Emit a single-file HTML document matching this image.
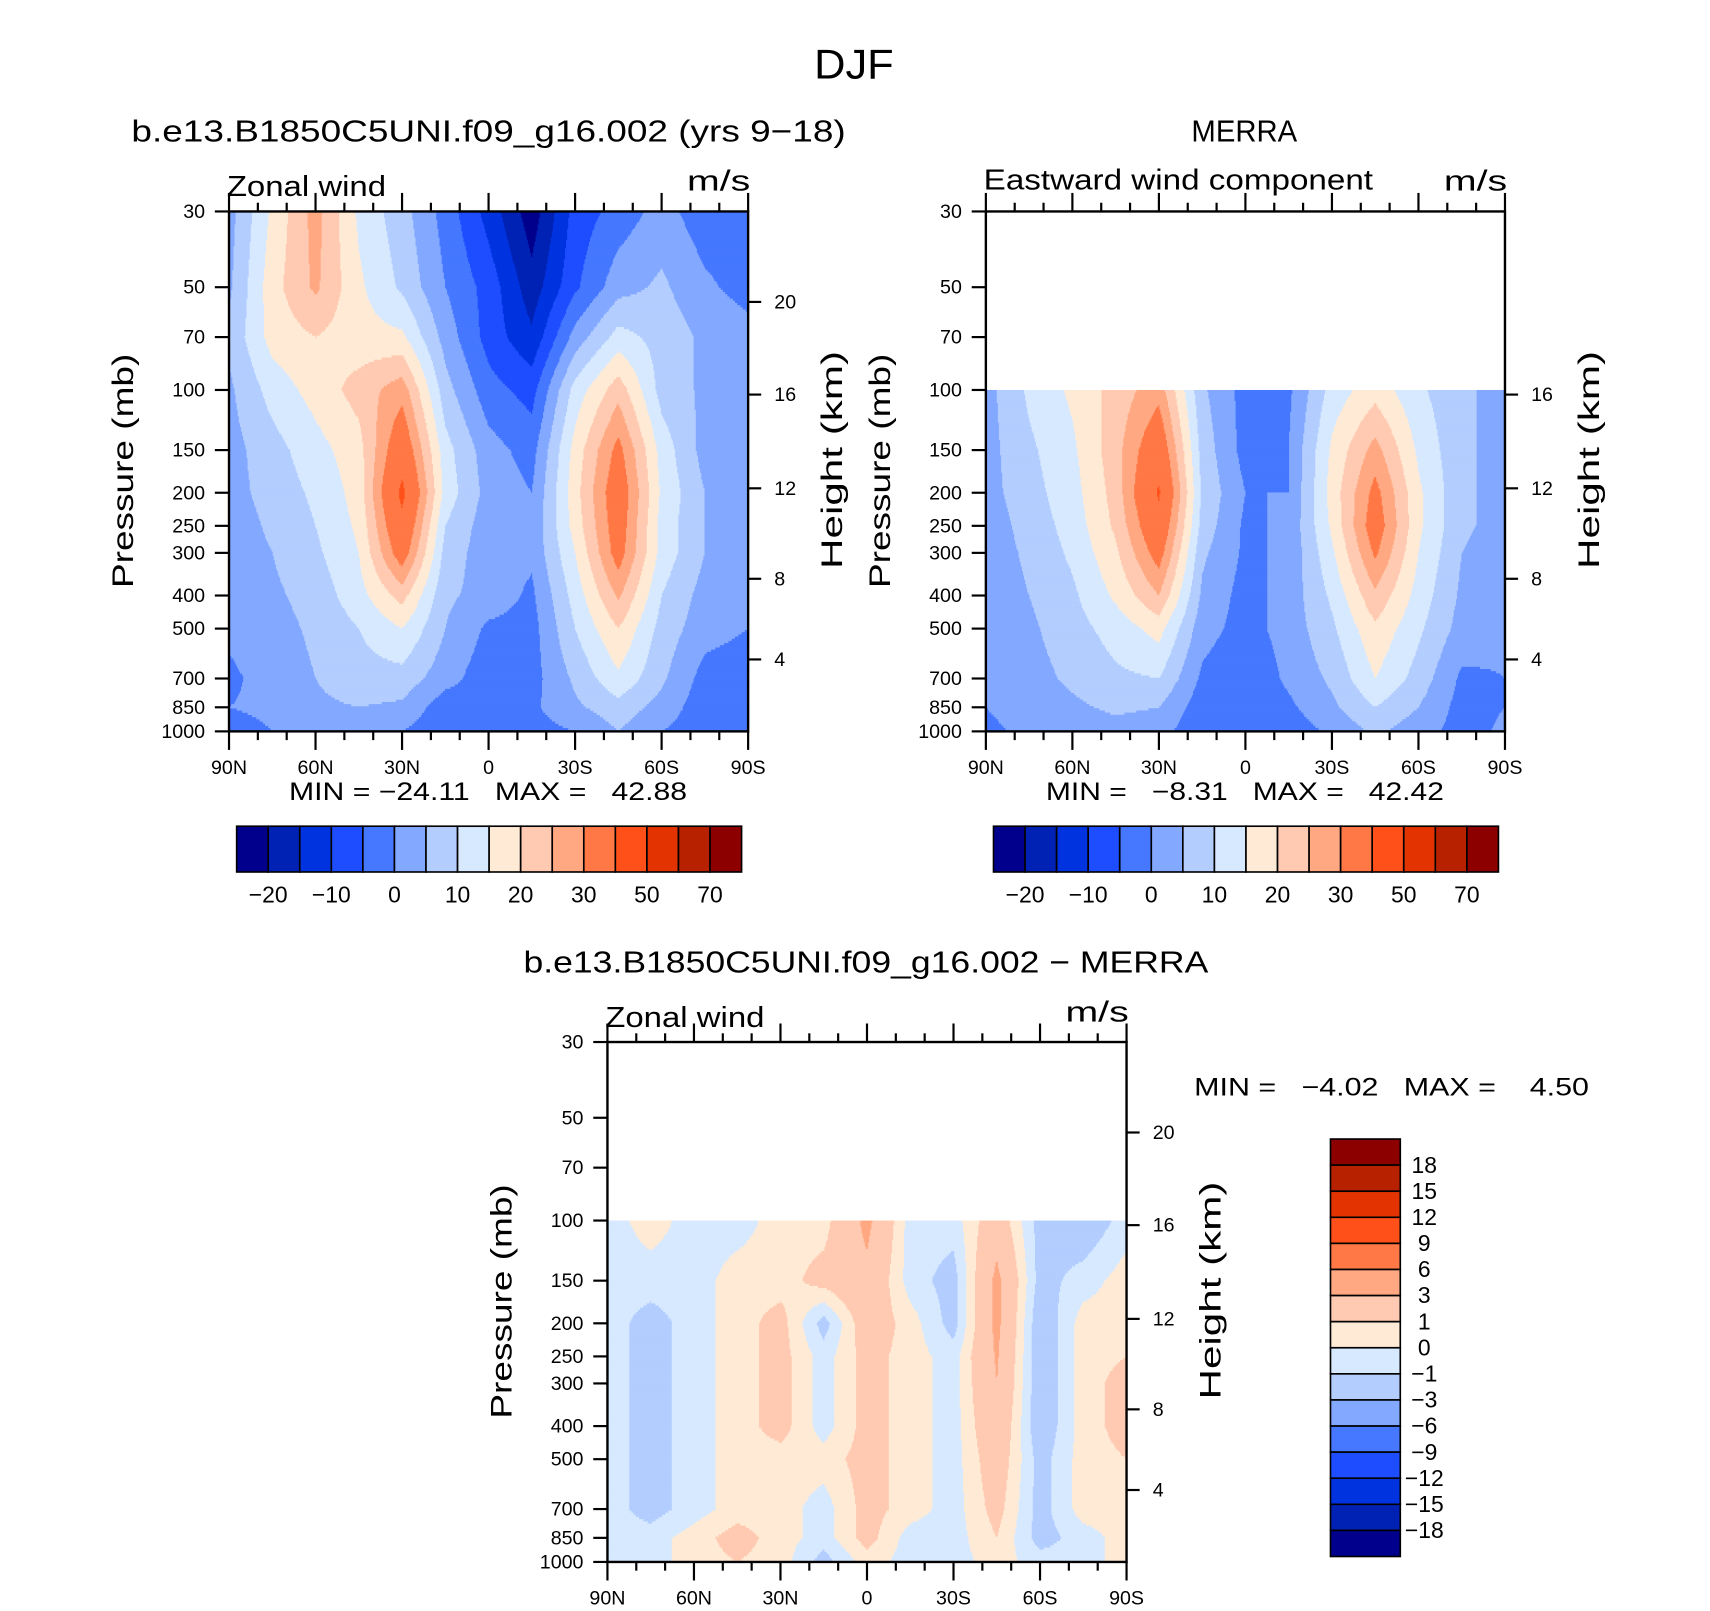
<!DOCTYPE html>
<html><head><meta charset="utf-8"><title>DJF zonal wind</title>
<style>
html,body{margin:0;padding:0;background:#fff;overflow:hidden}
svg{display:block;font-family:"Liberation Sans",sans-serif}
</style></head>
<body>
<svg id="fig" width="1710" height="1611" viewBox="0 0 1568 1478" preserveAspectRatio="none" xmlns="http://www.w3.org/2000/svg">
<rect width="1568" height="1478" fill="#fff"/>
<text x="783" y="72" font-size="38" text-anchor="middle" textLength="73" lengthAdjust="spacingAndGlyphs">DJF</text>
</svg>
<script>
// ---------- DATA ----------
const lats = [90, 75, 60, 45, 30, 15, 0, -15, -30, -45, -60, -75, -90];
const levsModel = [30, 50, 70, 100, 150, 200, 250, 300, 400, 500, 700, 850, 1000];
const levsObs = [100, 150, 200, 250, 300, 400, 500, 700, 850, 1000];
const modelU = [
 [3, 16, 27, 14, 7, -2, -12, -23, -8, -3, 2, -3, -3],
 [4, 18, 26, 16, 9, 0, -7, -18, -6, 3, 6, 1, -2],
 [6, 17, 20, 17, 16, 3, -7, -14, 2, 12, 8, 4, 2],
 [4, 12, 17, 22, 28, 7, -3, -7, 12, 23, 8, 4, 3],
 [3, 8, 13, 18, 36, 12, 2, -2, 17, 32, 13, 3, 3],
 [3, 7, 11, 17, 42, 13, 3, 0, 18, 35, 14, 5, 3],
 [2, 6, 10, 16, 38, 10, 2, 1, 17, 34, 13, 5, 2],
 [2, 5, 9, 15, 34, 8, 2, 1, 15, 33, 13, 5, 2],
 [1, 4, 7, 13, 22, 6, 3, -1, 12, 26, 10, 3, 1],
 [1, 3, 6, 10, 15, 5, -1, -2, 10, 20, 8, 2, 0],
 [-1, 2, 5, 8, 8, 2, -3, -2, 6, 14, 6, -2, -3],
 [0, 1, 4, 5, 4, -3, -2, -1, 4, 8, 3, -3, -2],
 [-2, 0, 1, 2, 0, -4, -3, -2, 0, 5, 0, -3, -2]
];
const obsU = [
 [3, 11, 16, 22, 28, 6, -2, -1, 12, 18, 11, 6, 3],
 [3, 9, 14, 23, 36, 8, -2, 0, 16, 27, 14, 6, 3],
 [3, 8, 13, 22, 41, 9, 0, 0, 17, 32, 16, 6, 3],
 [2, 7, 12, 21, 37, 8, -1, 1, 16, 34, 16, 6, 3],
 [2, 6, 11, 19, 33, 6, -1, 1, 14, 31, 15, 5, 2],
 [2, 5, 9, 16, 25, 4, -2, 2, 11, 24, 13, 4, 2],
 [1, 4, 8, 12, 17, 2, -2, 2, 9, 19, 11, 3, 1],
 [1, 3, 6, 9, 10, -1, -4, 1, 6, 15, 8, -1, 0],
 [0, 2, 4, 6, 5, -3, -4, -1, 4, 10, 5, -2, 0],
 [-1, 1, 2, 3, 2, -4, -4, -3, 1, 6, 2, -2, 1]
];
const diffU = [
 [-0.5, 0.5, -0.5, -0.5, 0.5, 0.5, 3.5, -0.5, -0.5, 2, -1.5, -2, -0.5],
 [-0.5, -0.5, -0.5, 0.5, 0.5, 1.5, 2.5, -0.5, -1.5, 3.5, -1.5, -0.5, 0.5],
 [-0.5, -1.5, -0.5, 0.5, 1.5, -1.5, 2, 0.5, -1.5, 3.5, -2, 0.5, 0.5],
 [-0.5, -1.5, -0.5, 0.5, 1.5, -0.5, 1.5, 0.5, -0.5, 3.2, -2, 0.5, 1],
 [-0.5, -1.5, -0.5, 0.5, 1.5, -0.5, 1.5, 0.5, -0.5, 3, -2, 0.5, 1.5],
 [-0.5, -1.5, -0.5, 0.5, 1.5, -0.5, 1.5, 0.5, -0.5, 2.5, -2, 0.5, 1.5],
 [-0.5, -1.5, -0.5, 0.5, 0.5, 0.5, 1.5, 0.5, -0.5, 2, -1.5, 0.5, 1],
 [-0.5, -1.5, -0.5, 0.5, 0.5, -0.5, 1.5, 0.5, -0.5, 1.5, -1.5, 0.5, 0.5],
 [-0.5, -0.5, 0.5, 1.5, 0.5, -0.5, 1.5, -0.5, -0.5, 1, -1.5, -0.5, 0.5],
 [-0.5, -0.5, 0.5, 1, 0.5, -1.5, 0.5, -0.5, -0.5, 0.5, -0.5, -0.5, 0.5]
];
const windBounds = [-20, -15, -10, -5, 0, 5, 10, 15, 20, 25, 30, 40, 50, 60, 70];
const windBarLabels = ["−20", "−10", "0", "10", "20", "30", "50", "70"];
const diffBounds = [-18, -15, -12, -9, -6, -3, -1, 0, 1, 3, 6, 9, 12, 15, 18];
const diffBarLabels = ["−18", "−15", "−12", "−9", "−6", "−3", "−1", "0", "1", "3", "6", "9", "12", "15", "18"];
const palette = ["#00008c", "#0022b4", "#0033e0", "#1e4dff", "#4577ff", "#83a8ff", "#b3cdff", "#d6e9ff",
                 "#ffead6", "#ffcab1", "#ffa882", "#ff7845", "#ff5019", "#e23300", "#b82100", "#8c0000"];
const presTicks = [30, 50, 70, 100, 150, 200, 250, 300, 400, 500, 700, 850, 1000];
const latTicks = [90, 60, 30, 0, -30, -60, -90];
const latTickLabels = ["90N", "60N", "30N", "0", "30S", "60S", "90S"];
const heightTicksA = ["20", "16", "12", "8", "4"];
const heightTickOffsetsA = [83, 168, 254, 337, 411];
const heightTicksB = ["16", "12", "8", "4"];
const heightTickOffsetsB = [168, 254, 337, 411];

// ---------- HELPERS ----------
const NS = "http://www.w3.org/2000/svg";
const svg = document.getElementById("fig");
function mk(tag, attrs, parent, txt) {
  const e = document.createElementNS(NS, tag);
  for (const k in attrs) e.setAttribute(k, attrs[k]);
  if (txt !== undefined) e.textContent = txt;
  (parent || svg).appendChild(e);
  return e;
}
function fit(el, len) { el.setAttribute("textLength", len); el.setAttribute("lengthAdjust", "spacingAndGlyphs"); return el; }
function colorIdx(v, b) { let i = 0; while (i < b.length && v >= b[i]) i++; return i; }

function panel(cfg) {
  const g = mk("g", {});
  
  
  const X0 = cfg.x, Y0 = cfg.y, W = 476, H = 477;
  const L = Math.log(1000 / 30);
  const xs = lat => X0 + (90 - lat) / 180 * W;
  const ys = p => Y0 + Math.log(p / 30) / L * H;
  const fg = mk("g", {}, g);
  
  
  const levs = cfg.levs, data = cfg.data;
  const lnl = levs.map(p => Math.log(p));
  const yStart = ys(levs[0]), yEnd = Y0 + H, step = 2;
  for (let py = yStart; py < yEnd; py += step) {
    const p = 30 * Math.exp((py + step / 2 - Y0) / H * L);
    const lp = Math.log(p);
    let k = 0; while (k < lnl.length - 2 && lp > lnl[k + 1]) k++;
    let t = (lp - lnl[k]) / (lnl[k + 1] - lnl[k]); t = Math.max(0, Math.min(1, t));
    let runStart = X0, runC = -1;
    for (let px = X0; px <= X0 + W; px += 1) {
      let c = -1;
      if (px < X0 + W) {
        const lat = 90 - (px + 0.5 - X0) / W * 180;
        let j = Math.floor((90 - lat) / 15); j = Math.max(0, Math.min(lats.length - 2, j));
        const s = (lats[j] - lat) / (lats[j] - lats[j + 1]);
        const v = (1 - t) * ((1 - s) * data[k][j] + s * data[k][j + 1]) + t * ((1 - s) * data[k + 1][j] + s * data[k + 1][j + 1]);
        c = colorIdx(v, cfg.bounds);
      }
      if (c !== runC) {
        if (runC >= 0) {
          const r = mk("rect", {x: runStart, y: py, width: px - runStart + 0.6, height: Math.min(step, yEnd - py) + 0.6, fill: palette[runC]}, fg);
          
          
        }
        runStart = px; runC = c;
      }
    }
  }
  const fr = mk("rect", {x: X0, y: Y0, width: W, height: H, fill: "none", stroke: "#000", "stroke-width": 2.2}, g);
  
  
  presTicks.forEach(p => {
    const y = ys(p);
    mk("line", {x1: X0 - 13, x2: X0, y1: y, y2: y, stroke: "#000", "stroke-width": 2}, g);
    const t = mk("text", {x: X0 - 22, y: y + 6, "font-size": 18, "text-anchor": "end"}, g, String(p));
    
    
  });
  cfg.hTicks.forEach((h, i) => {
    const y = Y0 + cfg.hOff[i];
    mk("line", {x1: X0 + W, x2: X0 + W + 12, y1: y, y2: y, stroke: "#000", "stroke-width": 2}, g);
    const t = mk("text", {x: X0 + W + 24, y: y + 6, "font-size": 18}, g, h);
    
    
  });
  for (let lat = 90; lat >= -90; lat -= 10) {
    const x = xs(lat), major = lat % 30 === 0, len = major ? 17 : 8;
    mk("line", {x1: x, x2: x, y1: Y0 + H, y2: Y0 + H + len, stroke: "#000", "stroke-width": 2}, g);
    mk("line", {x1: x, x2: x, y1: Y0, y2: Y0 - len, stroke: "#000", "stroke-width": 2}, g);
  }
  latTicks.forEach((lat, i) => {
    const t = mk("text", {x: xs(lat), y: Y0 + H + 39, "font-size": 18, "text-anchor": "middle"}, g, latTickLabels[i]);
    
    
  });
  let t = fit(mk("text", {x: cfg.titleX, y: Y0 - 64, "font-size": 28, "text-anchor": "middle"}, g, cfg.title), cfg.titleLen);
  
  
  t = fit(mk("text", {x: X0 - 2, y: Y0 - 14 - cfg.lOff, "font-size": 26}, g, cfg.left), cfg.leftLen);
  
  
  t = fit(mk("text", {x: X0 + W + 2, y: Y0 - 19, "font-size": 26, "text-anchor": "end"}, g, "m/s"), 58);
  
  
  t = fit(mk("text", {x: 0, y: 0, "font-size": 27, "text-anchor": "middle", transform: `translate(${X0 - 88},${Y0 + 238}) rotate(-90)`}, g, "Pressure (mb)"), 215);
  
  
  t = fit(mk("text", {x: 0, y: 0, "font-size": 27, "text-anchor": "middle", transform: `translate(${X0 + W + 86},${Y0 + 228}) rotate(-90)`}, g, "Height (km)"), 200);
  
  
}

function hbar(x0, y0, name, labels, minmax) {
  const g = mk("g", {});
  
  
  const bw = 463 / 16;
  palette.forEach((c, i) => {
    const r = mk("rect", {x: x0 + i * bw, y: y0, width: bw, height: 42, fill: c, stroke: "#000", "stroke-width": 1.5}, g);
    
    
  });
  labels.forEach((l, i) => {
    const t = mk("text", {x: x0 + (2 * i + 1) * bw, y: y0 + 70, "font-size": 21, "text-anchor": "middle"}, g, l);
    
    
  });
  const t = fit(mk("text", {x: x0 + 48, y: y0 - 24, "font-size": 23, style: "white-space:pre"}, g, minmax), 365);
  
  
}

panel({name: "model-panel", x: 210, y: 194, levs: levsModel, data: modelU, bounds: windBounds,
  hTicks: heightTicksA, hOff: heightTickOffsetsA, title: "b.e13.B1850C5UNI.f09_g16.002 (yrs 9−18)", titleX: 448, titleLen: 655,
  left: "Zonal wind", leftLen: 146, lOff: 0});
panel({name: "merra-panel", x: 904, y: 194, levs: levsObs, data: obsU, bounds: windBounds,
  hTicks: heightTicksB, hOff: heightTickOffsetsB, title: "MERRA", titleX: 1141, titleLen: 97,
  left: "Eastward wind component", leftLen: 357, lOff: 6});
panel({name: "difference-panel", x: 557, y: 956, levs: levsObs, data: diffU, bounds: diffBounds,
  hTicks: heightTicksA, hOff: heightTickOffsetsA, title: "b.e13.B1850C5UNI.f09_g16.002 − MERRA", titleX: 794, titleLen: 628,
  left: "Zonal wind", leftLen: 146, lOff: 0});
hbar(217, 758, "model-colorbar", windBarLabels, "MIN = −24.11   MAX =   42.88");
hbar(911, 758, "merra-colorbar", windBarLabels, "MIN =   −8.31   MAX =   42.42");

(function () {
  const g = mk("g", {});
  
  
  const x0 = 1220, y0 = 1045, bh = 383 / 16;
  palette.slice().reverse().forEach((c, i) => {
    const r = mk("rect", {x: x0, y: y0 + i * bh, width: 64, height: bh, fill: c, stroke: "#000", "stroke-width": 1.5}, g);
    
    
  });
  diffBarLabels.slice().reverse().forEach((l, i) => {
    const t = mk("text", {x: 1306, y: y0 + (i + 1) * bh + 7, "font-size": 21, "text-anchor": "middle"}, g, l);
    
    
  });
  const t = fit(mk("text", {x: 1095, y: 1005, "font-size": 23, style: "white-space:pre"}, g, "MIN =   −4.02   MAX =    4.50"), 362);
  
  
})();
</script>
</body></html>
